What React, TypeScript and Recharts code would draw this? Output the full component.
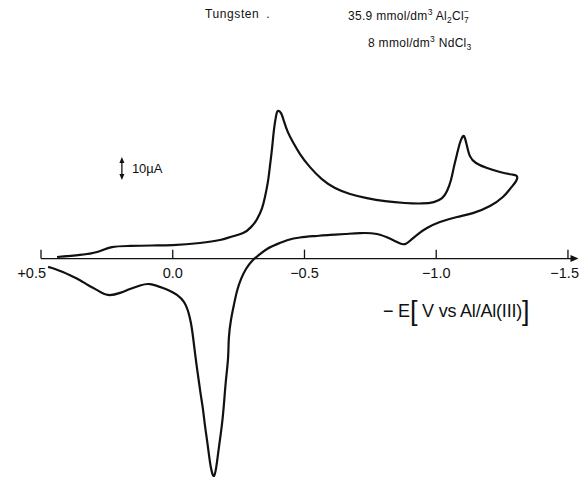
import { LineChart, Line, XAxis, YAxis, ReferenceLine } from "recharts";

// potential in V (positive to the left), current in µA (cathodic up)
const forwardE = [
  0.439, 0.352, 0.287, 0.231, 0.162, 0.079, 0.0, -0.103, -0.179, -0.225,
  -0.267, -0.297, -0.32, -0.339, -0.35, -0.361, -0.369, -0.377, -0.384, -0.392,
  -0.399, -0.411, -0.422, -0.437, -0.456, -0.483, -0.521, -0.566, -0.616, -0.673,
  -0.737, -0.806, -0.881, -0.946, -0.991, -1.022, -1.041, -1.056, -1.067, -1.079,
  -1.09, -1.102, -1.109, -1.117, -1.128, -1.151, -1.193, -1.242, -1.287, -1.306,
];
const forwardI = [
  0.7, 1.6, 2.9, 5.0, 5.5, 5.7, 5.9, 6.8, 8.1, 9.6,
  11.1, 13.7, 17.2, 22.0, 26.8, 33.3, 40.3, 48.1, 55.9, 62.0,
  64.2, 63.3, 59.8, 55.0, 50.7, 45.5, 39.8, 34.6, 30.7, 28.1,
  26.3, 25.0, 24.2, 24.0, 24.6, 26.3, 29.4, 34.2, 39.8, 45.5,
  50.3, 53.3, 52.4, 48.9, 44.6, 41.6, 39.4, 37.7, 36.6, 35.9,
];
const reverseE = [
  -1.303, -1.28, -1.253, -1.204, -1.139, -1.079, -1.014, -0.965, -0.931, -0.904,
  -0.881, -0.859, -0.828, -0.775, -0.711, -0.654, -0.597, -0.54, -0.483, -0.437,
  -0.396, -0.358, -0.327, -0.301, -0.278, -0.259, -0.244, -0.232, -0.221, -0.213,
  -0.21, -0.202, -0.195, -0.187, -0.176, -0.168, -0.157, -0.145, -0.138, -0.13,
  -0.122, -0.115, -0.107, -0.1, -0.092, -0.084, -0.077, -0.069, -0.058, -0.043,
  -0.016, 0.01, 0.037, 0.086, 0.124, 0.162, 0.2, 0.246, 0.287, 0.322,
  0.352, 0.39, 0.417, 0.447, 0.473,
];
const reverseI = [
  33.7, 30.3, 26.8, 22.9, 19.8, 18.1, 15.9, 13.3, 10.7, 8.1,
  6.3, 6.8, 8.5, 10.7, 11.1, 10.7, 10.3, 9.8, 9.2, 8.1,
  6.3, 4.2, 1.6, -1.0, -4.5, -8.9, -14.1, -20.2, -26.7, -34.5,
  -43.2, -52.8, -62.3, -71.9, -81.5, -88.4, -94.5, -91.0, -85.8, -78.9,
  -72.3, -65.8, -59.7, -54.1, -47.6, -40.6, -34.1, -28.0, -22.8, -18.9,
  -15.8, -14.1, -12.8, -11.1, -11.7, -13.2, -14.9, -15.8, -13.7, -11.5,
  -9.4, -7.2, -5.8, -4.5, -3.6,
];

const tickValues = [0.5, 0, -0.5, -1.0, -1.5];
const tickLabels = ["+0.5", "0.0", "\u22120.5", "\u22121.0", "\u22121.5"];
const scaleBar = { e: 0.193, from: 34.2, size: 10, label: "10\u00b5A" };

const sweep = [
  ...forwardE.map((e, k) => ({ e, i: forwardI[k] })),
  ...reverseE.map((e, k) => ({ e, i: reverseI[k] })),
];

const ink = "#111";
const font = "'Liberation Sans', Arial, sans-serif";

const AxisLine = (p: any) => {
  const left = Math.min(p.x1, p.x2);
  const right = Math.max(p.x1, p.x2);
  const y = p.y1;
  return (
    <g>
      <line x1={left} y1={y} x2={right - 4} y2={y} stroke={ink} strokeWidth={1.4} />
      <polygon points={`${right},${y} ${right - 8},${y - 3.5} ${right - 8},${y + 3.5}`} fill={ink} />
    </g>
  );
};

const makeTick = (label: string, k: number, n: number) => (p: any) => {
  const bottom = Math.max(p.y1, p.y2);
  const top = Math.min(p.y1, p.y2);
  const first = k === 0;
  const last = k === n - 1;
  return (
    <g>
      <line x1={p.x1} y1={bottom} x2={p.x1} y2={top} stroke={ink} strokeWidth={1.3} />
      <text
        x={first ? p.x1 + 5 : last ? p.x1 + 11 : p.x1}
        y={bottom + 19}
        textAnchor={first || last ? "end" : "middle"}
        fontFamily={font}
        fontSize={14.5}
        fill={ink}
      >
        {label}
      </text>
    </g>
  );
};

const ScaleBar = (p: any) => {
  const top = Math.min(p.y1, p.y2);
  const bottom = Math.max(p.y1, p.y2);
  const x = p.x1;
  return (
    <g>
      <line x1={x} y1={top + 3} x2={x} y2={bottom - 3} stroke={ink} strokeWidth={1.3} />
      <polygon points={`${x},${top} ${x - 2.5},${top + 6} ${x + 2.5},${top + 6}`} fill={ink} />
      <polygon points={`${x},${bottom} ${x - 2.5},${bottom - 6} ${x + 2.5},${bottom - 6}`} fill={ink} />
      <text x={x + 10} y={(top + bottom) / 2 + 4.5} fontFamily={font} fontSize={13} fill={ink}>
        {scaleBar.label}
      </text>
    </g>
  );
};

const small = { fontSize: 8.5 };

const App = () => {
  return (
    <div style={{ position: "absolute", left: 0, top: 0, width: 580, height: 477, background: "#fff", fontFamily: font, color: ink }}>
      <div style={{ position: "absolute", left: 205, top: 7, fontSize: 12, letterSpacing: 0.6 }}>
        Tungsten <span style={{ marginLeft: 3 }}>.</span>
      </div>
      <div style={{ position: "absolute", left: 348, top: 7, fontSize: 12, letterSpacing: 0.3, whiteSpace: "nowrap" }}>
        35.9 mmol/dm<sup style={small}>3</sup> Al<sub style={small}>2</sub>Cl
        <span
          style={{
            display: "inline-flex",
            flexDirection: "column",
            fontSize: 8.5,
            lineHeight: "9px",
            verticalAlign: 6,
            textAlign: "center",
          }}
        >
          <span>−</span>
          <span>7</span>
        </span>
      </div>
      <div style={{ position: "absolute", left: 368, top: 34, fontSize: 12, letterSpacing: 0.3, whiteSpace: "nowrap" }}>
        8 mmol/dm<sup style={small}>3</sup> NdCl<sub style={small}>3</sub>
      </div>
      <div style={{ position: "absolute", left: 383, top: 296, fontSize: 18, whiteSpace: "nowrap", letterSpacing: -0.2 }}>
        − E<span style={{ fontSize: 27, fontWeight: 200, verticalAlign: -3 }}>[</span> V vs Al/Al(III)
        <span style={{ fontSize: 27, fontWeight: 200, verticalAlign: -3 }}>]</span>
      </div>
      <LineChart width={580} height={477} data={sweep} margin={{ top: 0, right: 1.5, bottom: 0, left: 41 }}>
        <XAxis type="number" dataKey="e" domain={[-1.54, 0.5]} reversed hide allowDataOverflow />
        <YAxis type="number" domain={[-95, 112.5]} hide allowDataOverflow />
        <ReferenceLine y={0} shape={AxisLine} />
        {tickValues.map((t, k) => (
          <ReferenceLine
            key={t}
            segment={[
              { x: t, y: 0 },
              { x: t, y: 3.9 },
            ]}
            shape={makeTick(tickLabels[k], k, tickValues.length)}
          />
        ))}
        <ReferenceLine
          segment={[
            { x: scaleBar.e, y: scaleBar.from },
            { x: scaleBar.e, y: scaleBar.from + scaleBar.size },
          ]}
          shape={ScaleBar}
        />
        <Line
          dataKey="i"
          type="natural"
          stroke={ink}
          strokeWidth={2.2}
          strokeLinejoin="round"
          dot={false}
          isAnimationActive={false}
        />
      </LineChart>
    </div>
  );
};

export default App;
